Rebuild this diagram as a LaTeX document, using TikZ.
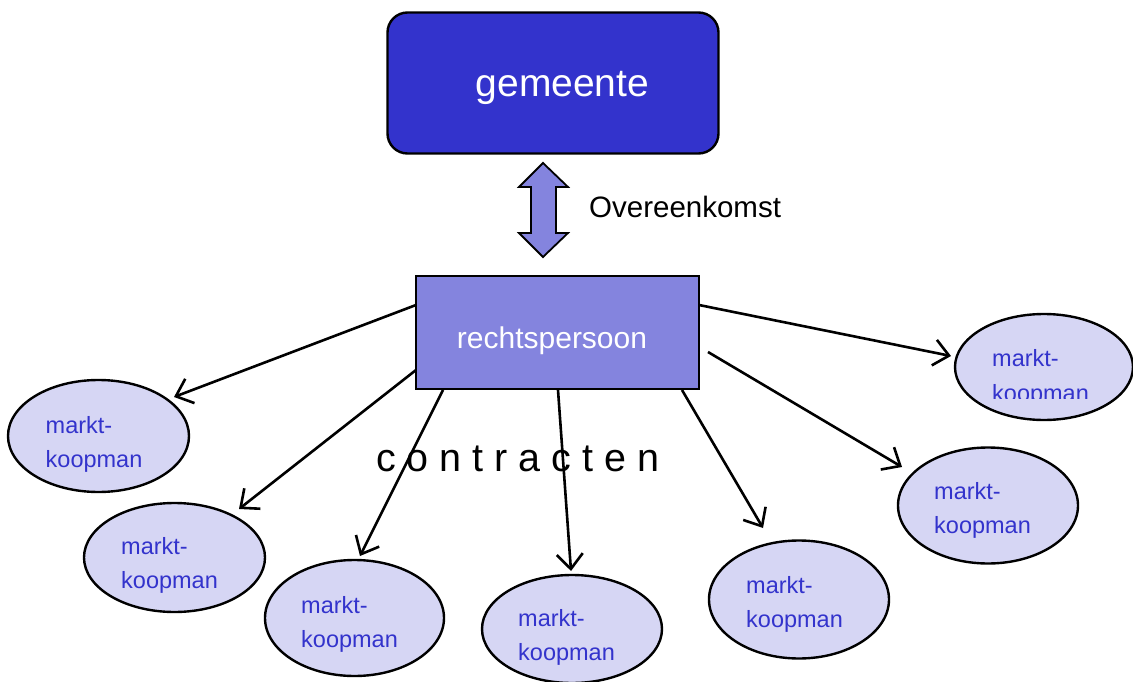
\documentclass[tikz,border=0pt]{standalone}
\usepackage{fontspec}
\setmainfont{Liberation Sans}
\usetikzlibrary{shapes.geometric,arrows.meta}
\definecolor{gemblue}{RGB}{51,51,204}
\definecolor{rpblue}{RGB}{132,132,222}
\definecolor{ellfill}{RGB}{214,214,244}
\definecolor{txtblue}{RGB}{51,51,204}
\tikzset{
  boxline/.style={draw=black, line width=2.4pt},
  koop/.style={ellipse, draw=black, line width=2.4pt, fill=ellfill, minimum width=180pt, minimum height=112pt, inner sep=0pt},
  kooptext/.style={anchor=base west, inner sep=0pt, text=txtblue, font=\fontsize{23.5}{28}\selectfont},
  contract/.style={draw=black, line width=2.6pt, -{Straight Barb[length=15pt,width=26pt,line width=2.6pt]}},
}
\begin{document}
\begin{tikzpicture}[x=1pt,y=-1pt]
\useasboundingbox (0,0) rectangle (1133,682);
% gemeente
\node[boxline, fill=gemblue, rounded corners=20pt, minimum width=331pt, minimum height=141pt, inner sep=0pt] (gem) at (553,83) {};
\node[anchor=base, inner sep=0pt, text=white, font=\fontsize{39}{47}\selectfont] (gemt) at (562.5,97) {gemeente};
% double arrow
\path[draw=black, line width=1.8pt, fill=rpblue]
  (543,163) -- (568,187) -- (556,187) -- (556,233) -- (568,233) -- (543,257)
  -- (519,233) -- (531,233) -- (531,187) -- (519,187) -- cycle;
\node[anchor=base west, inner sep=0pt, font=\fontsize{29.5}{35}\selectfont] (ov) at (589,217) {Overeenkomst};
% rechtspersoon
\node[boxline, fill=rpblue, minimum width=283pt, minimum height=113pt, inner sep=0pt] (rp) at (557.5,332.5) {};
\node[anchor=base, inner sep=0pt, text=white, font=\fontsize{30}{36}\selectfont] (rpt) at (552,348) {rechtspersoon};
% contracten
\node[anchor=base west, inner sep=0pt, font=\fontsize{39.5}{47}\selectfont] (con) at (376,471) {c o n t r a c t e n};
% ellipses
\node[koop, minimum width=181pt, minimum height=112pt] (e1) at (98.5,436) {};
\node[koop, minimum width=181pt, minimum height=109pt] (e2) at (174.5,557.5) {};
\node[koop, minimum width=179pt, minimum height=116pt] (e3) at (354.5,618) {};
\node[koop, minimum width=180pt, minimum height=108pt] (e4) at (572,629) {};
\node[koop, minimum width=180pt, minimum height=118pt] (e5) at (799,599.5) {};
\node[koop, minimum width=180pt, minimum height=116pt] (e6) at (988,505.5) {};
\node[koop, minimum width=178pt, minimum height=106pt] (e7) at (1044,367) {};
% texts
\node[kooptext] (t1a) at (45.5,433) {markt-};
\node[kooptext] (t1b) at (45.5,467) {koopman};
\node[kooptext] (t2a) at (121,554) {markt-};
\node[kooptext] (t2b) at (121,588) {koopman};
\node[kooptext] (t3a) at (301,613) {markt-};
\node[kooptext] (t3b) at (301,647) {koopman};
\node[kooptext] (t4a) at (518,626) {markt-};
\node[kooptext] (t4b) at (518,660) {koopman};
\node[kooptext] (t5a) at (746,593) {markt-};
\node[kooptext] (t5b) at (746,627) {koopman};
\node[kooptext] (t6a) at (934,499) {markt-};
\node[kooptext] (t6b) at (934,533) {koopman};
\begin{scope}
  \clip (940,300) rectangle (1133,398.5);
  \node[kooptext] (t7a) at (992,366) {markt-};
  \node[kooptext] (t7b) at (992,401) {koopman};
\end{scope}
% connector ends
\coordinate (s1) at (416,305);  \coordinate (p1) at (174,397);
\coordinate (s2) at (416,370);  \coordinate (p2) at (239,509);
\coordinate (s3) at (443,390);  \coordinate (p3) at (360,556);
\coordinate (s4) at (558,390);  \coordinate (p4) at (571,571);
\coordinate (s5) at (682,390);  \coordinate (p5) at (763,528);
\coordinate (s6) at (708,352);  \coordinate (p6) at (902,467);
\coordinate (s7) at (699,305);  \coordinate (p7) at (951,356);
\foreach \i in {1,...,7} { \draw[contract] (s\i) -- (p\i); }
\end{tikzpicture}
\end{document}
